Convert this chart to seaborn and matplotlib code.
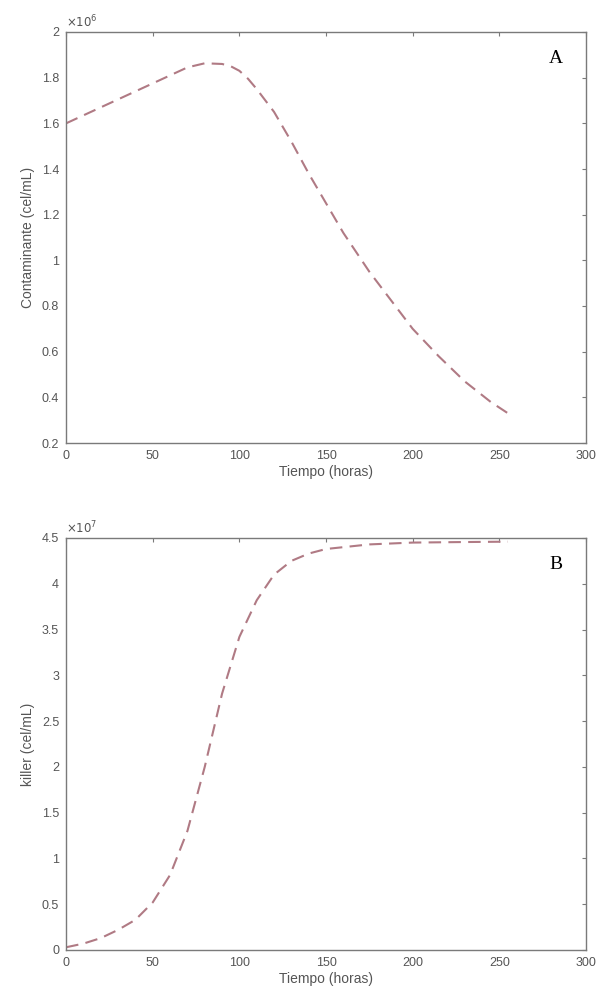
import numpy as np
import pandas as pd
import matplotlib
matplotlib.use("Agg")
import matplotlib.pyplot as plt
from matplotlib.ticker import FuncFormatter
import seaborn as sns

# Panel A: contaminante (cel/mL)
t_cont = [0, 10, 20, 30, 40, 50, 60, 70, 80, 90, 95, 100, 105, 110, 120, 130, 140, 150, 160, 175, 190, 200,
          215, 230, 245, 255]
cont = [1.60e6, 1.635e6, 1.67e6, 1.705e6, 1.74e6, 1.775e6, 1.81e6, 1.845e6, 1.863e6, 1.86e6, 1.85e6, 1.83e6,
        1.795e6, 1.75e6, 1.65e6, 1.52e6, 1.38e6, 1.25e6, 1.12e6, 0.95e6, 0.80e6, 0.70e6, 0.58e6, 0.47e6,
        0.38e6, 0.33e6]

# Panel B: killer (cel/mL)
t_kill = [0, 10, 20, 30, 40, 50, 60, 70, 80, 90, 100, 110, 120, 130, 140, 150, 175, 200, 225, 255]
kill = [0.03e7, 0.07e7, 0.13e7, 0.22e7, 0.33e7, 0.52e7, 0.82e7, 1.30e7, 2.00e7, 2.80e7, 3.42e7, 3.82e7,
        4.10e7, 4.25e7, 4.33e7, 4.38e7, 4.43e7, 4.45e7, 4.455e7, 4.46e7]

x_ticks = [0, 50, 100, 150, 200, 250, 300]
yA_ticks = [0.2e6, 0.4e6, 0.6e6, 0.8e6, 1.0e6, 1.2e6, 1.4e6, 1.6e6, 1.8e6, 2.0e6]
yB_ticks = [0, 0.5e7, 1.0e7, 1.5e7, 2.0e7, 2.5e7, 3.0e7, 3.5e7, 4.0e7, 4.5e7]

sns.set_style("white")
plt.rcParams['font.family'] = ['Liberation Sans', 'DejaVu Sans']

fig = plt.figure(figsize=(6.01, 10.0), dpi=100)
axA = fig.add_axes([0.110, 0.557, 0.865, 0.411])
axB = fig.add_axes([0.110, 0.050, 0.865, 0.412])

line_color = "#b07a84"
grey = "#7a7a7a"
txt = "#555555"

def style(ax, yticks, ylim, scale, exp, ylabel, letter):
    ax.set_xlim(0, 300)
    ax.set_ylim(*ylim)
    ax.set_xticks(x_ticks)
    ax.set_yticks(yticks)
    ax.xaxis.set_major_formatter(FuncFormatter(lambda v, p: f"{v:g}"))
    ax.yaxis.set_major_formatter(FuncFormatter(lambda v, p: f"{round(v/scale, 3):g}"))
    ax.tick_params(direction="in", length=3, width=0.8, color=grey, labelcolor=txt,
                   labelsize=9, top=True, right=True, pad=5)
    for s in ax.spines.values():
        s.set_color(grey)
        s.set_linewidth(1.0)
    ax.set_xlabel("Tiempo (horas)", fontsize=10, color=txt, labelpad=2)
    ax.set_ylabel(ylabel, fontsize=10, color=txt, labelpad=5)
    ax.text(0.0, 1.003, r"$\times10^{%d}$" % exp, transform=ax.transAxes,
            fontsize=8.5, color=txt, ha="left", va="bottom")
    ax.text(0.955, 0.935, letter, transform=ax.transAxes, fontsize=14,
            family="Liberation Serif", color="black", ha="right", va="center")

dfA = pd.DataFrame({"t": t_cont, "v": cont})
dfB = pd.DataFrame({"t": t_kill, "v": kill})

sns.lineplot(data=dfA, x="t", y="v", ax=axA, color=line_color, linewidth=1.5)
sns.lineplot(data=dfB, x="t", y="v", ax=axB, color=line_color, linewidth=1.5)
for ax in (axA, axB):
    for ln in ax.get_lines():
        ln.set_dashes((6, 3.5))

style(axA, yA_ticks, (0.2e6, 2.0e6), 1e6, 6, "Contaminante (cel/mL)", "A")
style(axB, yB_ticks, (0, 4.5e7), 1e7, 7, "killer (cel/mL)", "B")

fig.savefig("out.png", dpi=100)
